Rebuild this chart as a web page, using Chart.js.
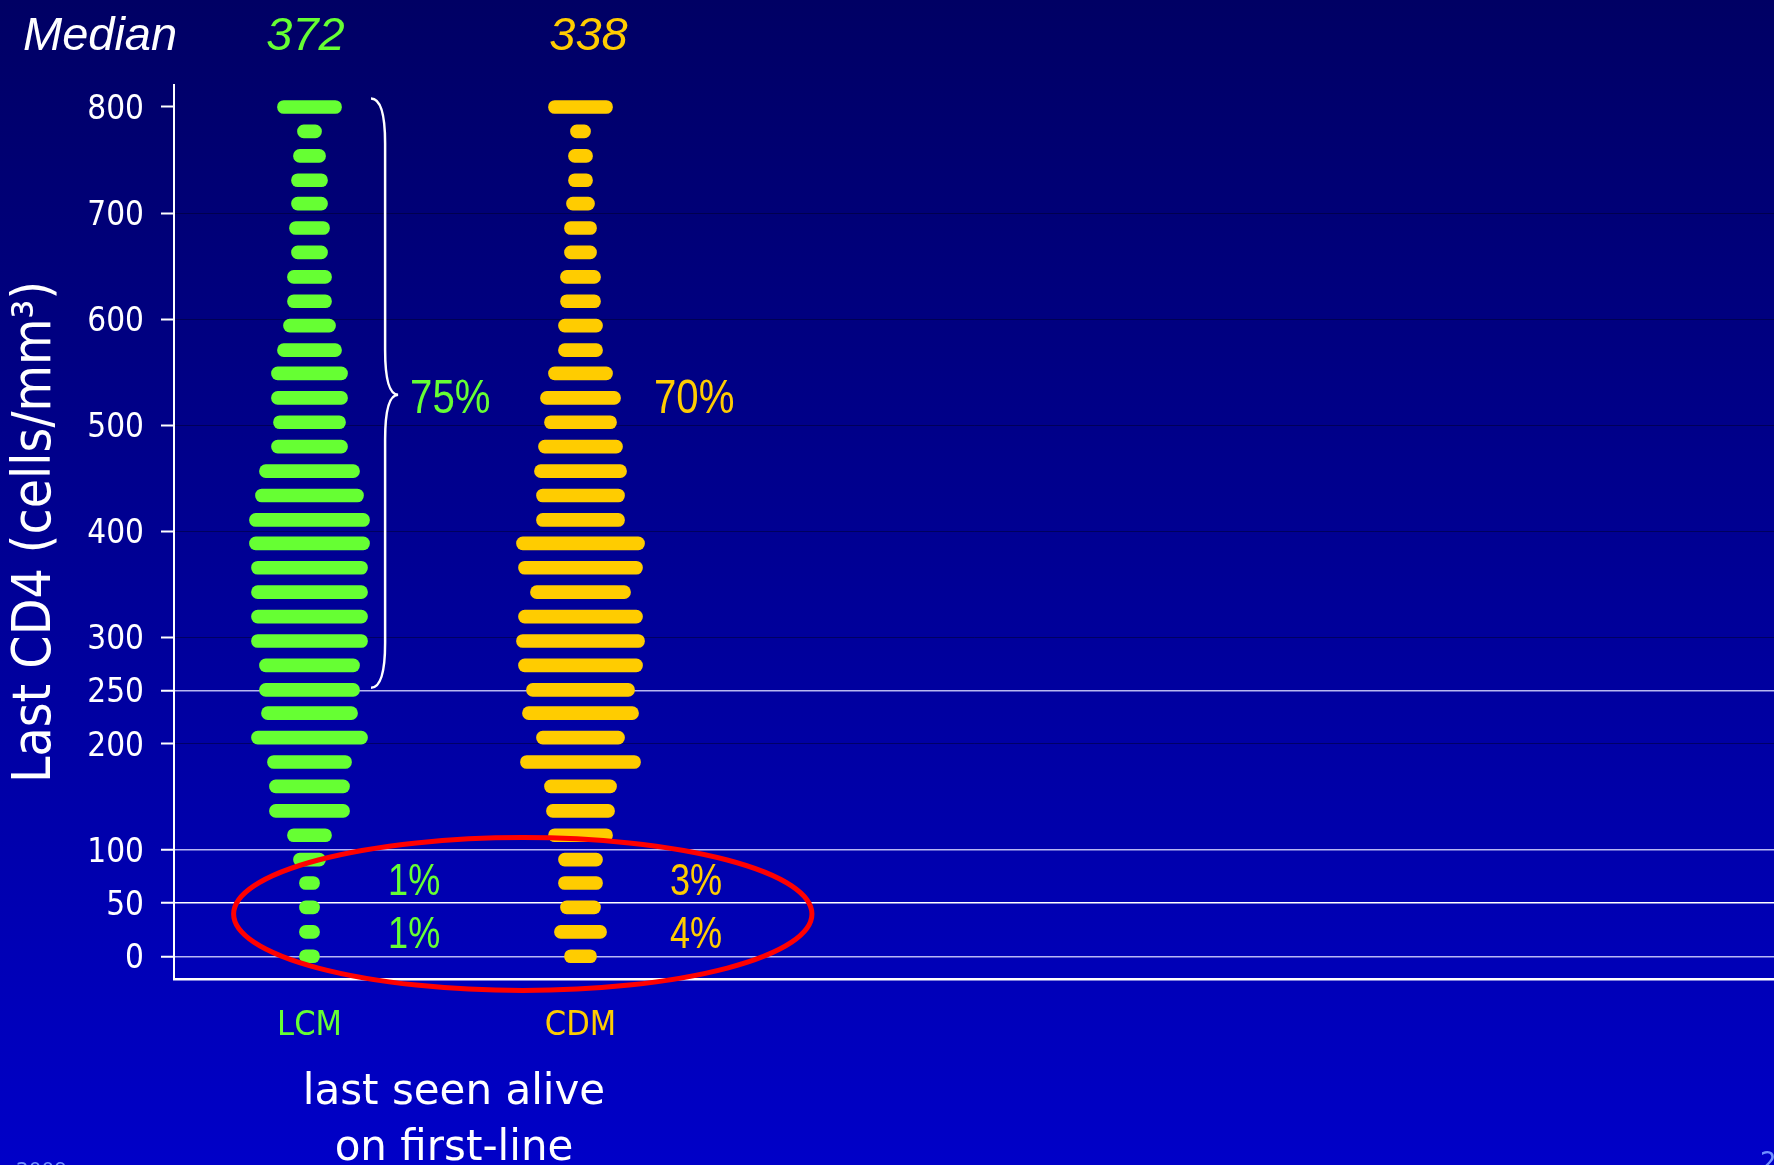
<!DOCTYPE html>
<html>
<head>
<meta charset="utf-8">
<title>Last CD4 by group</title>
<script src="https://cdn.jsdelivr.net/npm/chart.js@4/dist/chart.umd.min.js"></script>
<style>
  html, body { margin: 0; padding: 0; background: #000090; overflow: hidden; }
  canvas { display: block; }
</style>
</head>
<body>
<canvas id="cd4" width="1774" height="1165"></canvas>
<script>
// groups and their medians
const groups = ['LCM', 'CDM'];
const medians = [372, 338];

// CD4 level of each row of the dot plot (top to bottom)
const levels = [800, 777, 754, 731, 709, 686, 663, 640, 617, 594, 571, 549,
  526, 503, 480, 457, 434, 411, 389, 366, 343, 320, 297, 274,
  251, 229, 206, 183, 160, 137, 114, 91, 69, 46, 23, 0];

// number of patients in each row
const lcmCounts = [16, 6, 8, 9, 9, 10, 9, 11, 11, 13, 16, 19,
  19, 18, 19, 25, 27, 30, 30, 29, 29, 29, 29, 25,
  25, 24, 29, 21, 20, 20, 11, 8, 5, 5, 5, 5];
const cdmCounts = [16, 5, 6, 6, 7, 8, 8, 10, 10, 11, 11, 16,
  20, 18, 21, 23, 22, 22, 32, 31, 25, 31, 32, 31,
  27, 29, 22, 30, 18, 17, 16, 11, 11, 10, 13, 8];

const yTicks = [0, 50, 100, 200, 250, 300, 400, 500, 600, 700, 800];
const refLines = [0, 50, 100, 250];

// share of patients per band
const pctOver250 = ['75%', '70%'];
const pct50to100 = ['1%', '3%'];
const pctUnder50 = ['1%', '4%'];

const COLORS = {
  LCM: '#66ff33',
  CDM: '#ffcc00',
  ring: '#ff0000',
};
const groupColors = groups.map(g => COLORS[g]);
const COUNT_W = 0.01476;   // x units per patient
const COND = "'DejaVu Sans Condensed', 'DejaVu Sans', sans-serif";

const counts = [lcmCounts, cdmCounts];

// narrow text: Arial squeezed sideways, like the slide's narrow face
function narrowText(ctx, text, x, y, size) {
  ctx.save();
  ctx.translate(x, y);
  ctx.scale(0.82, 1);
  ctx.font = size + "px 'Liberation Sans', Arial, sans-serif";
  ctx.fillText(text, 0, 0);
  ctx.restore();
}

const overlay = {
  id: 'overlay',
  beforeDraw(chart) {
    const { ctx, width, height } = chart;
    const g = ctx.createLinearGradient(0, 0, 0, height);
    g.addColorStop(0, '#000064');
    g.addColorStop(1, '#0000c8');
    ctx.save();
    ctx.fillStyle = g;
    ctx.fillRect(0, 0, width, height);
    ctx.restore();
  },
  afterDraw(chart) {
    const { ctx, scales: { x, y } } = chart;
    ctx.save();

    // medians row
    ctx.textBaseline = 'alphabetic';
    ctx.font = "italic 47px 'Liberation Sans', Arial, sans-serif";
    ctx.fillStyle = '#ffffff';
    ctx.textAlign = 'left';
    ctx.fillText('Median', 23, 50);
    ctx.textAlign = 'center';
    medians.forEach((m, i) => {
      ctx.fillStyle = groupColors[i];
      ctx.fillText(String(m), x.getPixelForValue(i + 1) + (i === 0 ? -4 : 8), 50);
    });

    // brace over CD4 >= 250 for LCM
    const xe = x.getPixelForValue(1.227), xb = x.getPixelForValue(1.279), xt = x.getPixelForValue(1.327);
    const yT = y.getPixelForValue(808), yM = y.getPixelForValue(529), yB = y.getPixelForValue(253);
    const r = 45;
    ctx.beginPath();
    ctx.moveTo(xe, yT);
    ctx.quadraticCurveTo(xb, yT, xb, yT + r);
    ctx.lineTo(xb, yM - r);
    ctx.quadraticCurveTo(xb, yM, xt, yM);
    ctx.quadraticCurveTo(xb, yM, xb, yM + r);
    ctx.lineTo(xb, yB - r);
    ctx.quadraticCurveTo(xb, yB, xe, yB);
    ctx.strokeStyle = '#ffffff';
    ctx.lineWidth = 2.5;
    ctx.stroke();

    // percentages
    ctx.textAlign = 'left';
    const pctX = [1.371, 2.271];
    pctOver250.forEach((t, i) => {
      ctx.fillStyle = groupColors[i];
      narrowText(ctx, t, x.getPixelForValue(pctX[i]), y.getPixelForValue(512), 49);
    });
    const lowX = [1.29, 2.33];
    pct50to100.forEach((t, i) => {
      ctx.fillStyle = groupColors[i];
      narrowText(ctx, t, x.getPixelForValue(lowX[i]), y.getPixelForValue(58), 44);
    });
    pctUnder50.forEach((t, i) => {
      ctx.fillStyle = groupColors[i];
      narrowText(ctx, t, x.getPixelForValue(lowX[i]), y.getPixelForValue(7.5), 44);
    });

    // red ring round the low CD4 rows
    const cx = x.getPixelForValue(1.787), cy = y.getPixelForValue(39.8);
    const rx = x.getPixelForValue(1.787 + 1.067) - cx;
    const ry = cy - y.getPixelForValue(39.8 + 72);
    ctx.beginPath();
    ctx.ellipse(cx, cy, rx, ry, 0, 0, Math.PI * 2);
    ctx.strokeStyle = COLORS.ring;
    ctx.lineWidth = 5;
    ctx.stroke();

    // x title
    ctx.fillStyle = '#ffffff';
    ctx.textAlign = 'center';
    ctx.font = "42px 'DejaVu Sans', sans-serif";
    ctx.fillText('last seen alive', 454, 1104);
    ctx.fillText('on first-line', 454, 1160);

    // slide footer bits
    ctx.fillStyle = '#7090ff';
    ctx.textAlign = 'left';
    ctx.textBaseline = 'top';
    ctx.font = "20px 'DejaVu Sans', sans-serif";
    ctx.fillText('2009', 16, 1161);
    ctx.font = "26px 'DejaVu Sans', sans-serif";
    ctx.fillText('2', 1760, 1151);

    ctx.restore();
  }
};

new Chart(document.getElementById('cd4'), {
  type: 'bar',
  data: {
    datasets: groups.map((g, gi) => ({
      label: g,
      data: levels.map((lv, i) => {
        const half = counts[gi][i] * COUNT_W / 2;
        return { y: lv, x: [gi + 1 - half, gi + 1 + half] };
      }),
      backgroundColor: groupColors[gi],
      barThickness: 13,
      borderRadius: 7,
      borderSkipped: false,
      grouped: false,
    })),
  },
  options: {
    indexAxis: 'y',
    responsive: false,
    animation: false,
    devicePixelRatio: 1,
    layout: { padding: { top: 85, left: 0, right: 0, bottom: 0 } },
    plugins: {
      legend: { display: false },
      tooltip: { enabled: false },
    },
    scales: {
      y: {
        type: 'linear',
        position: 'left',
        min: -21.4,
        max: 820.7,
        offset: false,
        afterBuildTicks: s => { s.ticks = yTicks.map(v => ({ value: v })); },
        afterFit: s => { s.width = 174; },
        ticks: {
          color: '#ffffff',
          padding: 17,
          labelOffset: 3,
          font: { family: COND, size: 33 },
        },
        grid: {
          offset: false,
          color: c => {
            const v = c.tick ? c.tick.value : null;
            if (v === 50) return '#ffffff';
            if (refLines.includes(v)) return 'rgba(215,215,255,0.85)';
            if (v === 800) return 'rgba(0,0,0,0)';
            return 'rgba(0,0,30,0.45)';
          },
          lineWidth: c => (c.tick && refLines.includes(c.tick.value) ? 1.5 : 1),
          tickColor: '#ffffff',
          tickLength: 13,
          tickWidth: 2,
        },
        border: { display: true, color: '#ffffff', width: 2 },
        title: {
          display: true,
          text: 'Last CD4 (cells/mm³)',
          color: '#ffffff',
          padding: { top: 4, bottom: 0 },
          font: { family: COND, size: 53 },
        },
      },
      x: {
        type: 'linear',
        position: 'bottom',
        min: 0.5,
        max: 6.404,
        afterBuildTicks: s => { s.ticks = groups.map((g, i) => ({ value: i + 1 })); },
        afterFit: s => { s.height = 186; },
        ticks: {
          autoSkip: false,
          maxRotation: 0,
          padding: 27,
          callback: v => groups[v - 1],
          color: c => groupColors[c.index],
          font: { family: COND, size: 34 },
        },
        grid: { display: false, drawTicks: false },
        border: { display: true, color: '#ffffff', width: 2.5 },
      },
    },
  },
  plugins: [overlay],
});
</script>
</body>
</html>
